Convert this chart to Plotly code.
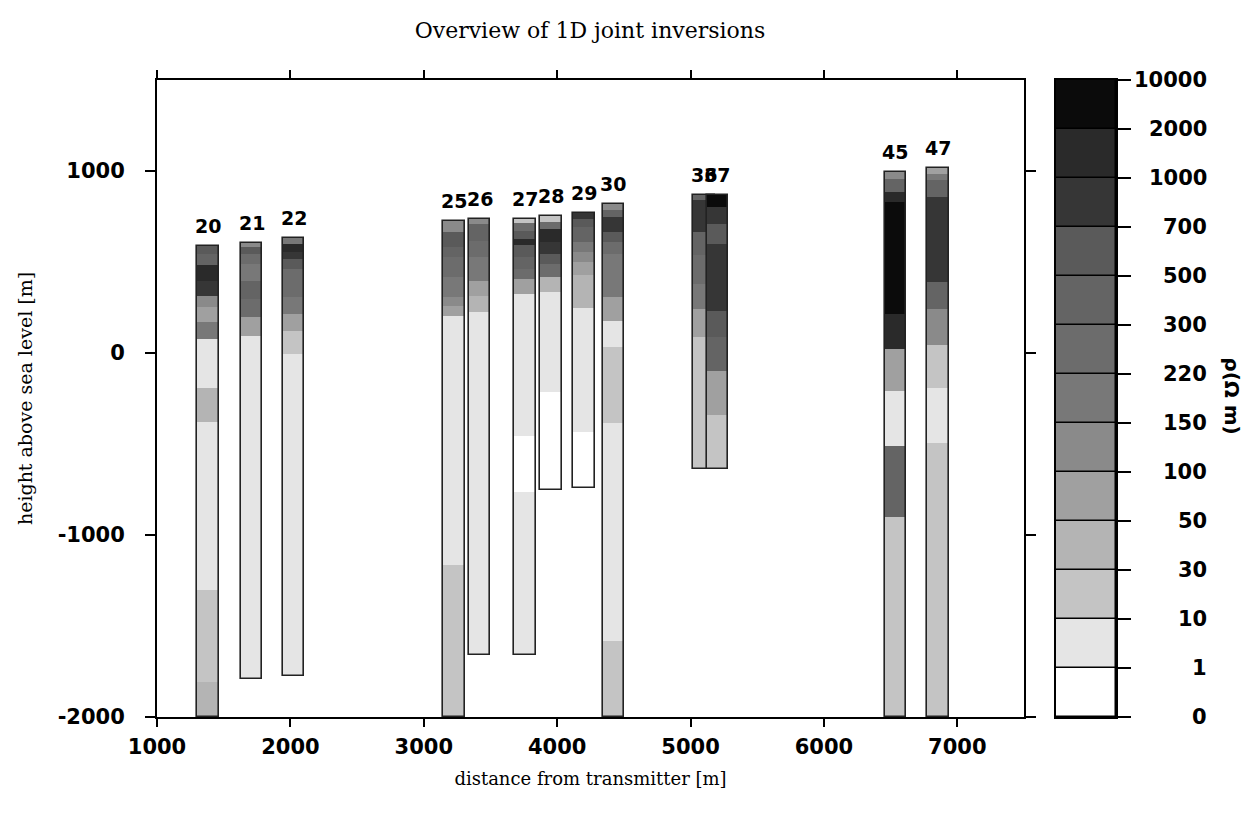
import plotly.graph_objects as go

# ---------------- data ----------------
# resistivity classes (Ohm m) and their grey shades (bottom -> top of colour bar)
bin_edges = [0, 1, 10, 30, 50, 100, 150, 220, 300, 500, 700, 1000, 2000, 10000]
bin_colors = ["#ffffff", "#e5e5e5", "#c4c4c4", "#b4b4b4", "#a0a0a0", "#8a8a8a",
              "#787878", "#6c6c6c", "#646464", "#5a5a5a", "#363636", "#2a2a2a", "#0b0b0b"]
bin_labels = ["0", "1", "10", "30", "50", "100", "150", "220", "300", "500",
              "700", "1000", "2000", "10000"]

x_ticks = [1000, 2000, 3000, 4000, 5000, 6000, 7000]
y_ticks = [-2000, -1000, 0, 1000]
y_ticktext = ["-2000", "-1000", "0", "1000"]

stations = ["20", "21", "22", "25", "26", "27", "28", "29", "30", "36", "37", "45", "47"]
station_x = [1382, 1709, 2024, 3227, 3419, 3760, 3955, 4202, 4420, 5100, 5200, 6535, 6856]
station_top = [590, 607, 631, 725, 737, 737, 752, 771, 820, 870, 870, 994, 1018]

# lower boundary (m a.s.l.) of each layer, top to bottom
layer_bottoms = [
    [545, 481, 398, 315, 251, 169, 75, -195, -380, -1300, -1810, -2000],
    [581, 545, 490, 398, 297, 196, 95, -1790],
    [600, 554, 517, 462, 307, 215, 123, -5, -1775],
    [665, 582, 527, 417, 307, 260, 205, -1165, -2000],
    [710, 618, 527, 398, 315, 224, -1657],
    [714, 673, 627, 591, 527, 462, 407, 325, -455, -763, -1657],
    [719, 679, 612, 545, 490, 417, 334, -214, -755],
    [738, 692, 609, 554, 499, 426, 246, -435, -739],
    [783, 747, 664, 609, 545, 307, 178, 35, -386, -1580, -2000],
    [838, 664, 536, 380, 242, 86, -635],
    [802, 710, 600, 233, 86, -97, -340, -635],
    [958, 885, 830, 215, 22, -210, -510, -900, -2000],
    [985, 948, 857, 389, 242, 45, -195, -495, -2000],
]
# resistivity (Ohm m) of each layer, top to bottom
layer_rho = [
    [600, 400, 1500, 850, 120, 70, 180, 5, 40, 5, 20, 40],
    [120, 600, 250, 180, 400, 250, 70, 5],
    [180, 1500, 850, 600, 250, 180, 70, 20, 5],
    [120, 600, 400, 250, 180, 120, 70, 5, 20],
    [120, 400, 250, 180, 70, 40, 5],
    [20, 250, 600, 1500, 600, 400, 250, 70, 5, 0.5, 5],
    [20, 250, 1500, 850, 600, 250, 40, 5, 0.5],
    [850, 600, 400, 180, 120, 70, 40, 5, 0.5],
    [120, 400, 850, 600, 250, 180, 70, 5, 20, 5, 20],
    [400, 850, 400, 250, 180, 70, 20],
    [5000, 850, 600, 850, 600, 400, 70, 20],
    [120, 400, 1500, 5000, 1500, 70, 5, 400, 20],
    [70, 180, 400, 850, 400, 120, 20, 5, 20],
]
bar_width = 160  # m


def rho_color(r):
    for i in range(len(bin_colors)):
        if bin_edges[i] <= r < bin_edges[i + 1]:
            return bin_colors[i]
    return bin_colors[-1]


# ---------------- layout geometry ----------------
W, H = 1250, 816
ML, MR, MT, MB = 157, 20, 80, 99
PW = W - ML - MR


def px(xpix):
    return (xpix - ML) / PW


main_dom = [0, px(1024)]
cb_dom = [px(1056), px(1116)]

TICKFONT = dict(family="DejaVu Sans", size=21, color="black", weight="bold")
SERIF = "DejaVu Serif"

fig = go.Figure()

for name, xs, top, bots, rhos in zip(stations, station_x, station_top, layer_bottoms, layer_rho):
    tops = [top] + bots[:-1]
    fig.add_trace(go.Bar(
        x=[xs] * len(bots), base=bots, y=[t - b for t, b in zip(tops, bots)],
        width=bar_width, marker=dict(color=[rho_color(r) for r in rhos], line=dict(width=0)),
        xaxis="x", yaxis="y", showlegend=False, hoverinfo="skip"))
    fig.add_trace(go.Bar(
        x=[xs], base=[bots[-1]], y=[top - bots[-1]], width=bar_width,
        marker=dict(color="rgba(0,0,0,0)", line=dict(color="#222", width=1.6)),
        xaxis="x", yaxis="y", showlegend=False, hoverinfo="skip"))
    fig.add_annotation(x=xs, y=top, xref="x", yref="y", text=name, showarrow=False,
                       yanchor="bottom", yshift=7,
                       font=dict(family="DejaVu Sans", size=19, color="black", weight="bold"))

# colour bar built as a small stacked column
nb = len(bin_colors)
fig.add_trace(go.Bar(
    x=[0.5] * nb, base=list(range(nb)), y=[1] * nb, width=1,
    marker=dict(color=bin_colors, line=dict(color="black", width=1.5)),
    xaxis="x2", yaxis="y2", showlegend=False, hoverinfo="skip"))
for i, lab in enumerate(bin_labels):
    fig.add_annotation(x=px(1209), y=i, xref="paper", yref="y2", text=lab, showarrow=False,
                       xanchor="right", yanchor="middle", font=TICKFONT)
fig.add_annotation(x=px(1232), y=0.505, xref="paper", yref="paper",
                   text="ρ(Ω m)", showarrow=False, textangle=90,
                   xanchor="center", yanchor="middle",
                   font=dict(family="DejaVu Sans", size=20, color="black", weight="bold"))

fig.update_layout(
    width=W, height=H, margin=dict(l=ML, r=MR, t=MT, b=MB),
    paper_bgcolor="white", plot_bgcolor="white", barmode="overlay", bargap=0,
    title=dict(text="Overview of 1D joint inversions", x=590 / W, xanchor="center",
               y=1 - 30 / H, yanchor="middle",
               font=dict(family=SERIF, size=22, color="black")),
    xaxis=dict(domain=main_dom, range=[1000, 7500], tickvals=x_ticks,
               ticks="outside", ticklen=8, tickwidth=1.5, tickcolor="black",
               showline=True, linewidth=2, linecolor="black", mirror="ticks",
               showgrid=False, zeroline=False, tickfont=TICKFONT, ticklabelstandoff=2,
               title=dict(text="distance from transmitter [m]", standoff=14,
                          font=dict(family=SERIF, size=18, color="black"))),
    yaxis=dict(domain=[0, 1], range=[-2000, 1500], tickvals=y_ticks, ticktext=y_ticktext,
               ticks="outside", ticklen=10, tickwidth=1.5, tickcolor="black",
               showline=True, linewidth=2, linecolor="black", mirror="ticks",
               showgrid=False, zeroline=False, tickfont=TICKFONT, ticklabelstandoff=16,
               title=dict(text="height above sea level [m]", standoff=20,
                          font=dict(family=SERIF, size=19, color="black"))),
    xaxis2=dict(domain=cb_dom, range=[0, 1], anchor="y2", showticklabels=False, ticks="",
                showline=True, linewidth=2, linecolor="black", mirror=True,
                showgrid=False, zeroline=False),
    yaxis2=dict(domain=[0, 1], range=[0, nb], anchor="x2", side="right",
                tickvals=list(range(nb + 1)), ticks="outside", ticklen=13, tickwidth=1.5,
                tickcolor="black", showticklabels=False,
                showline=True, linewidth=2, linecolor="black", mirror=True,
                showgrid=False, zeroline=False),
)

fig.write_html("out.html")
